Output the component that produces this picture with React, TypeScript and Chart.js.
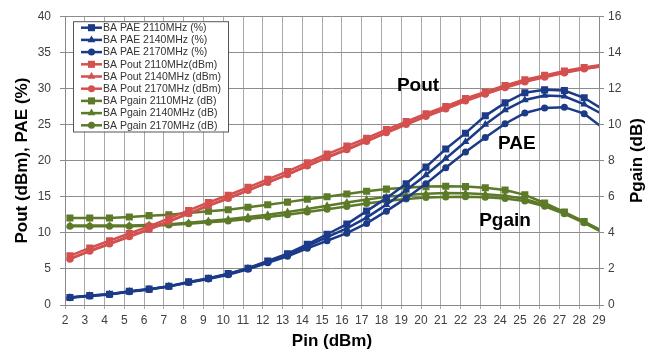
import React, { useEffect, useRef } from 'react';
import { Chart, registerables } from 'chart.js';

Chart.register(...registerables);

// ---- data ----
const pinValues = [2, 3, 4, 5, 6, 7, 8, 9, 10, 11, 12, 13, 14, 15, 16, 17, 18, 19, 20, 21, 22, 23, 24, 25, 26, 27, 28, 29];
const xTickLabels = [2, 3, 4, 5, 6, 7, 8, 9, 10, 11, 12, 13, 14, 15, 16, 17, 18, 19, 20, 21, 22, 23, 24, 25, 26, 27, 28, 29];

const pae2110 = [1.05, 1.3, 1.5, 1.9, 2.2, 2.6, 3.2, 3.7, 4.35, 5.1, 6.1, 7.1, 8.4, 9.8, 11.2, 13.0, 14.8, 16.8, 19.1, 21.6, 23.8, 26.2, 28.0, 29.4, 29.8, 29.7, 28.7, 27.0];
const pae2140 = [1.05, 1.28, 1.48, 1.88, 2.18, 2.58, 3.15, 3.65, 4.3, 5.05, 6.0, 6.95, 8.15, 9.4, 10.6, 12.1, 13.9, 15.9, 18.0, 20.3, 22.6, 25.0, 27.0, 28.4, 29.0, 28.9, 27.8, 26.3];
const pae2170 = [1.0, 1.25, 1.45, 1.85, 2.15, 2.55, 3.1, 3.6, 4.2, 4.95, 5.85, 6.75, 7.85, 8.9, 9.95, 11.3, 13.0, 14.8, 16.8, 19.0, 21.2, 23.2, 25.1, 26.6, 27.3, 27.4, 26.5, 24.4];

const pout2110 = [6.8, 7.9, 8.9, 9.9, 10.9, 12.0, 13.1, 14.2, 15.2, 16.3, 17.4, 18.5, 19.7, 20.9, 22.0, 23.1, 24.3, 25.4, 26.5, 27.5, 28.6, 29.5, 30.4, 31.2, 31.8, 32.4, 32.9, 33.3];
const pout2140 = [6.4, 7.5, 8.5, 9.5, 10.5, 11.6, 12.7, 13.8, 14.8, 15.9, 17.0, 18.1, 19.3, 20.5, 21.6, 22.75, 23.95, 25.1, 26.2, 27.25, 28.35, 29.3, 30.2, 31.0, 31.65, 32.25, 32.75, 33.15];
const pout2170 = [6.35, 7.45, 8.45, 9.45, 10.45, 11.55, 12.65, 13.75, 14.75, 15.85, 16.95, 18.05, 19.25, 20.4, 21.5, 22.65, 23.85, 25.0, 26.1, 27.15, 28.25, 29.2, 30.1, 30.9, 31.55, 32.15, 32.7, 33.1];

const pgain2110 = [4.82, 4.82, 4.82, 4.88, 4.95, 5.0, 5.1, 5.19, 5.28, 5.42, 5.55, 5.7, 5.86, 6.0, 6.15, 6.3, 6.42, 6.5, 6.56, 6.58, 6.56, 6.5, 6.37, 6.1, 5.65, 5.15, 4.62, 4.05];
const pgain2140 = [4.4, 4.4, 4.4, 4.4, 4.43, 4.48, 4.56, 4.65, 4.75, 4.87, 5.0, 5.15, 5.32, 5.5, 5.68, 5.85, 5.99, 6.1, 6.17, 6.2, 6.19, 6.14, 6.05, 5.88, 5.55, 5.1, 4.6, 4.05];
const pgain2170 = [4.36, 4.36, 4.36, 4.36, 4.39, 4.43, 4.5, 4.58, 4.66, 4.76, 4.87, 5.0, 5.15, 5.3, 5.46, 5.62, 5.76, 5.87, 5.95, 5.99, 6.0, 5.97, 5.9, 5.76, 5.47, 5.05, 4.55, 3.98];

const seriesLabels = [
  'BA PAE 2110MHz (%)',
  'BA PAE 2140MHz (%)',
  'BA PAE 2170MHz (%)',
  'BA Pout 2110MHz(dBm)',
  'BA Pout 2140MHz (dBm)',
  'BA Pout 2170MHz (dBm)',
  'BA Pgain 2110MHz (dB)',
  'BA Pgain 2140MHz (dB)',
  'BA Pgain 2170MHz (dB)',
];

// annotation labels in data coordinates [text, pin, left-axis value]
const annotations: [string, number, number][] = [
  ['Pout', 19.6, 30.3],
  ['PAE', 24.6, 22.3],
  ['Pgain', 24.0, 11.6],
];

// ---- styles ----
const FONT = "'Liberation Sans', Arial, Helvetica, sans-serif";
const X_SHIFT = 0.25;
const BLUE = '#1b3a87';
const RED = '#d4504f';
const GREEN = '#5d7a28';

function drawMarker(ctx: CanvasRenderingContext2D, style: string, x: number, y: number, r: number, color: string) {
  ctx.save();
  ctx.fillStyle = color;
  ctx.beginPath();
  if (style === 'rect') {
    const s = r * Math.SQRT1_2;
    ctx.rect(x - s, y - s, 2 * s, 2 * s);
  } else if (style === 'triangle') {
    ctx.moveTo(x, y - r);
    ctx.lineTo(x + r * 0.866, y + r * 0.5);
    ctx.lineTo(x - r * 0.866, y + r * 0.5);
    ctx.closePath();
  } else {
    ctx.arc(x, y, r, 0, Math.PI * 2);
  }
  ctx.fill();
  ctx.restore();
}

const overlayPlugin = {
  id: 'overlay',
  afterDraw(chart: any) {
    const ctx: CanvasRenderingContext2D = chart.ctx;
    const area = chart.chartArea;
    const xs = chart.scales.x;
    const ys = chart.scales.y;

    // annotations
    ctx.save();
    ctx.font = `bold 19px ${FONT}`;
    ctx.fillStyle = '#000';
    ctx.textAlign = 'center';
    ctx.textBaseline = 'middle';
    annotations.forEach(([t, px, py]) => {
      ctx.fillText(t, xs.getPixelForValue(px), ys.getPixelForValue(py));
    });
    ctx.restore();

    // right axis title (reads bottom-to-top)
    ctx.save();
    ctx.font = `bold 17px ${FONT}`;
    ctx.fillStyle = '#000';
    ctx.textAlign = 'center';
    ctx.textBaseline = 'middle';
    ctx.translate(chart.width - 13, (area.top + area.bottom) / 2);
    ctx.rotate(-Math.PI / 2);
    ctx.fillText('Pgain (dB)', 0, 0);
    ctx.restore();

    // legend
    const lx = area.left + 8;
    const ly = area.top + 5;
    const lw = 155;
    const rowH = 12.2;
    const lh = rowH * chart.data.datasets.length + 0.5;
    ctx.save();
    ctx.fillStyle = '#ffffff';
    ctx.fillRect(lx, ly, lw, lh);
    ctx.strokeStyle = '#555';
    ctx.lineWidth = 1;
    ctx.strokeRect(lx + 0.5, ly + 0.5, lw, lh);
    ctx.font = `10.5px ${FONT}`;
    ctx.textBaseline = 'middle';
    ctx.textAlign = 'left';
    chart.data.datasets.forEach((ds: any, i: number) => {
      const y = ly + 6.5 + i * rowH;
      ctx.strokeStyle = ds.borderColor;
      ctx.lineWidth = 2.5;
      ctx.beginPath();
      ctx.moveTo(lx + 8, y);
      ctx.lineTo(lx + 29, y);
      ctx.stroke();
      drawMarker(ctx, ds.pointStyle, lx + 18.5, y, ds.pointRadius, ds.borderColor);
      ctx.fillStyle = '#333';
      ctx.fillText(ds.label, lx + 30, y + 0.5);
    });
    ctx.restore();
  },
};

function makeDataset(label: string, data: number[], color: string, style: string, axis: string) {
  const radius = style === 'rect' ? 5 : style === 'triangle' ? 4.5 : 3.5;
  return {
    label,
    data: pinValues.map((p, i) => ({ x: p, y: data[i] })),
    borderColor: color,
    backgroundColor: color,
    borderWidth: 2.5,
    pointStyle: style,
    pointRadius: radius,
    pointBorderWidth: 0,
    pointHoverRadius: radius,
    yAxisID: axis,
    tension: 0,
    clip: 0,
  };
}

export default function App() {
  const canvasRef = useRef<HTMLCanvasElement | null>(null);

  useEffect(() => {
    document.body.style.margin = '0';
    const canvas = canvasRef.current;
    if (!canvas) return;

    const datasets = [
      makeDataset(seriesLabels[0], pae2110, BLUE, 'rect', 'y'),
      makeDataset(seriesLabels[1], pae2140, BLUE, 'triangle', 'y'),
      makeDataset(seriesLabels[2], pae2170, BLUE, 'circle', 'y'),
      makeDataset(seriesLabels[3], pout2110, RED, 'rect', 'y'),
      makeDataset(seriesLabels[4], pout2140, RED, 'triangle', 'y'),
      makeDataset(seriesLabels[5], pout2170, RED, 'circle', 'y'),
      makeDataset(seriesLabels[6], pgain2110, GREEN, 'rect', 'y1'),
      makeDataset(seriesLabels[7], pgain2140, GREEN, 'triangle', 'y1'),
      makeDataset(seriesLabels[8], pgain2170, GREEN, 'circle', 'y1'),
    ];

    const tickFont = { family: FONT, size: 12 };
    const titleFont = { family: FONT, size: 17, weight: 'bold' as const };

    const chart = new Chart(canvas, {
      type: 'line',
      data: { datasets },
      plugins: [overlayPlugin],
      options: {
        responsive: false,
        devicePixelRatio: 1,
        animation: false,
        layout: { padding: { top: 12, left: 0, right: 0, bottom: 0 } },
        plugins: {
          legend: { display: false },
          tooltip: { enabled: false },
        },
        scales: {
          x: {
            type: 'linear',
            min: xTickLabels[0] - X_SHIFT,
            max: xTickLabels[xTickLabels.length - 1] - X_SHIFT,
            afterBuildTicks: (scale: any) => {
              scale.ticks = xTickLabels.map((v) => ({ value: v - X_SHIFT }));
            },
            afterFit: (scale: any) => {
              scale.height = 51;
            },
            grid: { color: '#a8a8a8', lineWidth: 1, tickLength: 4 },
            border: { color: '#888888' },
            ticks: {
              callback: (_v: any, i: number) => String(xTickLabels[i]),
              font: tickFont,
              color: '#404040',
              padding: 4,
              maxRotation: 0,
              autoSkip: false,
            },
            title: {
              display: true,
              text: 'Pin (dBm)',
              font: titleFont,
              color: '#000',
              padding: { top: 0, bottom: 4 },
            },
          },
          y: {
            position: 'left',
            min: 0,
            max: 40,
            afterFit: (scale: any) => {
              scale.width = 65;
            },
            grid: { color: '#8c8c8c', lineWidth: 1, tickLength: 5 },
            border: { color: '#888888' },
            ticks: { stepSize: 5, font: tickFont, color: '#404040', padding: 9 },
            title: {
              display: true,
              text: 'Pout (dBm), PAE (%)',
              font: titleFont,
              color: '#000',
              padding: { top: 12, bottom: 0 },
            },
          },
          y1: {
            position: 'right',
            min: 0,
            max: 16,
            afterFit: (scale: any) => {
              scale.width = 51;
            },
            grid: { drawOnChartArea: false, color: '#8c8c8c', tickLength: 5 },
            border: { color: '#888888' },
            ticks: { stepSize: 2, font: tickFont, color: '#404040', padding: 4 },
          },
        },
      } as any,
    });

    return () => {
      chart.destroy();
    };
  }, []);

  return (
    <div style={{ width: 650, height: 356, background: '#fff' }}>
      <canvas ref={canvasRef} width={650} height={356} />
    </div>
  );
}
